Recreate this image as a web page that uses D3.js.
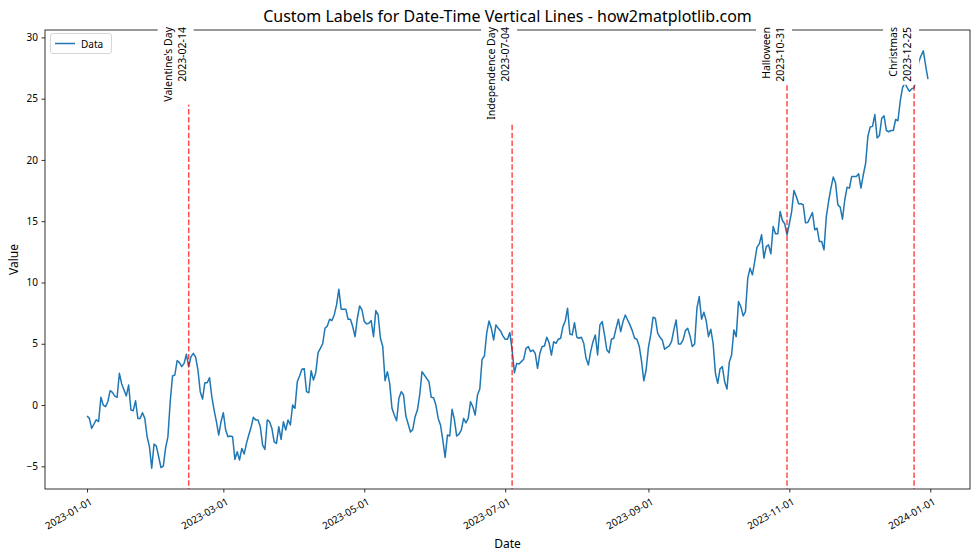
<!DOCTYPE html>
<html>
<head>
<meta charset="utf-8">
<script src="https://cdn.jsdelivr.net/npm/d3@7"></script>
<style>
  html, body { margin: 0; padding: 0; background: #fff; }
  svg { display: block; }
  text { font-family: "Noto Sans", "DejaVu Sans", sans-serif; fill: #000; }
</style>
</head>
<body>
<svg id="chart" width="980" height="560"></svg>
<script>
// ---------- data ----------
const startDate = "2023-01-01";
const values = [
  -0.9,-1.09,-1.9,-1.55,-1.2,-1.35,0.63,0,-0.13,0.27,
  1.17,1.03,0.73,0.63,2.59,1.72,1.23,0.74,1.63,-0.41,
  -0.46,0.35,-1.09,-1.09,-0.63,-1.09,-2.59,-3.4,-5.15,-3.19,
  -3.35,-4.22,-5.1,-4.98,-3.5,-2.6,0.27,2.37,2.45,3.62,
  3.46,3.13,3.4,4.14,3.13,3.95,4.22,3.9,2.86,1.09,
  0.49,1.82,1.82,2.23,0.68,-0.41,-1.36,-2.45,-1.36,-0.63,
  -2.04,-2.59,-2.53,-2.59,-4.44,-3.81,-4.49,-3.54,-4.0,-3.13,
  -2.45,-1.82,-1.0,-1.22,-1.22,-1.77,-3.27,-3.62,-1.22,-1.36,
  -1.9,-3.0,-3.13,-1.77,-2.8,-1.36,-2.04,-1.22,-1.63,0,
  -0.27,1.9,2.37,2.92,2.97,1.09,1.0,2.8,2.04,2.64,
  4.27,4.63,5.0,6.26,6.45,7.0,6.89,7.35,8.17,9.45,
  7.82,7.82,7.82,7.0,7.0,6.4,5.58,7.08,8.09,7.76,
  6.81,6.62,6.67,6.89,5.58,7.71,7.35,5.45,4.77,1.99,
  2.72,1.77,-0.27,-0.82,-1.28,0.55,1.09,0.82,-0.9,-1.55,
  -2.2,-1.99,-0.95,-0.41,0.82,2.72,2.45,2.18,1.9,0.63,
  0.6,0,-1.09,-1.63,-2.86,-4.27,-2.45,-2.53,-0.35,-1.17,
  -2.53,-2.37,-2.04,-1.09,-1.45,-1.09,0.27,-0.14,-0.82,0.82,
  1.3,3.73,4.0,5.86,6.86,6.26,5.31,6.54,6.26,6.05,
  5.64,5.37,5.37,5.91,4.49,2.64,3.4,3.35,3.54,3.73,
  4.63,4.77,4.36,4.49,4.22,3.0,4.22,4.77,4.82,5.53,
  5.09,4.08,5.17,5.04,5.37,5.45,6.4,6.85,7.9,5.8,
  5.72,6.72,5.53,5.45,5.53,5.04,3.81,3.27,4.36,5.17,
  5.72,4.08,6.54,6.81,5.72,4.49,4.27,5.37,5.45,6.26,
  7.0,5.99,6.81,7.35,6.94,6.54,6.07,5.45,5.37,4.82,
  3.6,1.98,2.86,4.7,5.72,7.16,7.08,5.86,5.53,5.31,
  4.55,4.71,4.82,5.17,6.13,6.94,4.98,4.98,5.31,6.07,
  6.26,5.64,4.77,4.98,7.9,8.85,7.0,7.57,6.89,5.58,
  6.18,5.04,2.59,1.77,2.95,3.13,1.9,1.3,3.5,4.08,
  6.13,5.58,8.44,8.03,7.27,7.62,10.35,11.17,10.62,11.71,
  12.88,13.15,13.89,11.98,12.93,13.07,12.34,14.57,13.97,13.97,
  15.79,15.06,14.79,13.89,14.79,15.79,17.51,17.02,16.42,16.42,
  16.34,14.87,14.9,15.3,15.71,14.3,14.43,13.34,13.34,12.66,
  15.38,16.61,17.7,18.6,18.11,16.34,16.15,15.17,16.75,17.78,
  17.7,18.65,18.65,18.65,18.87,17.7,18.79,19.69,21.92,22.69,
  22.74,23.7,21.8,22.0,23.4,23.6,22.4,22.3,22.4,22.4,
  23.3,23.2,24.8,25.9,26.3,25.9,25.6,25.8,25.9,26.6,
  28.0,28.5,28.9,27.7,26.6
];
const eventDates = ["2023-02-14", "2023-07-04", "2023-10-31", "2023-12-25"];
const eventNames = ["Valentine's Day", "Independence Day", "Halloween", "Christmas"];
const xTickLabels = ["2023-01-01","2023-03-01","2023-05-01","2023-07-01","2023-09-01","2023-11-01","2024-01-01"];
const yTicks = [-5, 0, 5, 10, 15, 20, 25, 30];
const seriesName = "Data";
const titleText = "Custom Labels for Date-Time Vertical Lines - how2matplotlib.com";

// ---------- layout ----------
const W = 980, H = 560;
const L = 45, R = 970, T = 30, B = 489;
const lineColor = "#1f77b4";

const parse = d3.utcParse("%Y-%m-%d");
const t0 = parse(startDate);
const data = values.map((v, i) => ({ date: d3.utcDay.offset(t0, i), value: v }));

const svg = d3.select("#chart");

// x scale with 5% margins
const xExt = d3.extent(data, d => d.date);
const xSpan = xExt[1] - xExt[0];
const x = d3.scaleUtc()
  .domain([new Date(+xExt[0] - 0.05 * xSpan), new Date(+xExt[1] + 0.05 * xSpan)])
  .range([L, R]);

const yExt = d3.extent(values);
const ySpan = yExt[1] - yExt[0];
const y = d3.scaleLinear()
  .domain([yExt[0] - 0.05 * ySpan, yExt[1] + 0.05 * ySpan])
  .range([B, T]);

// clip
svg.append("defs").append("clipPath").attr("id", "clip")
  .append("rect").attr("x", L).attr("y", T).attr("width", R - L).attr("height", B - T);

// data line
svg.append("path")
  .datum(data)
  .attr("clip-path", "url(#clip)")
  .attr("fill", "none")
  .attr("stroke", lineColor)
  .attr("stroke-width", 1.5)
  .attr("stroke-linejoin", "round")
  .attr("d", d3.line().x(d => x(d.date)).y(d => y(d.value)));

// vertical event lines
const events = eventDates.map((d, i) => ({ date: parse(d), name: eventNames[i], label: d }));
svg.append("g").selectAll("line").data(events).join("line")
  .attr("x1", d => x(d.date)).attr("x2", d => x(d.date))
  .attr("y1", T).attr("y2", B)
  .attr("stroke", "red").attr("stroke-opacity", 0.7)
  .attr("stroke-width", 1.5)
  .attr("stroke-dasharray", "5.5,2.4");

// axes
const xAxis = d3.axisBottom(x)
  .tickValues(xTickLabels.map(parse))
  .tickFormat(d3.utcFormat("%Y-%m-%d"))
  .tickSize(3.5).tickPadding(3);
const gx = svg.append("g").attr("transform", `translate(0,${B})`).call(xAxis);
gx.select(".domain").remove();
gx.selectAll(".tick line").attr("stroke", "#000").attr("stroke-width", 0.8);
gx.selectAll(".tick text")
  .attr("font-size", 10)
  .attr("text-anchor", "end")
  .attr("dy", null)
  .attr("y", 0)
  .attr("dominant-baseline", "hanging")
  .attr("transform", "translate(1,7) rotate(-30)");

const yAxis = d3.axisLeft(y).tickValues(yTicks).tickSize(3.5).tickPadding(3.5);
const gy = svg.append("g").attr("transform", `translate(${L},0)`).call(yAxis);
gy.select(".domain").remove();
gy.selectAll(".tick line").attr("stroke", "#000").attr("stroke-width", 0.8);
gy.selectAll(".tick text").attr("font-size", 10);

// spines
svg.append("rect").attr("x", L).attr("y", T).attr("width", R - L).attr("height", B - T)
  .attr("fill", "none").attr("stroke", "#000").attr("stroke-width", 0.8);

// event label boxes + text
const fs = 10.5;
const lab = svg.append("g").selectAll("g").data(events).join("g");
lab.each(function (d) {
  const g = d3.select(this);
  const lx = x(d.date);
  const rect = g.append("rect").attr("fill", "#fff");
  const t1 = g.append("text")
    .attr("transform", `translate(${lx - 21},27) rotate(-90)`)
    .attr("text-anchor", "end")
    .attr("dominant-baseline", "central")
    .attr("font-size", fs)
    .text(d.name);
  const t2 = g.append("text")
    .attr("transform", `translate(${lx - 7},27) rotate(-90)`)
    .attr("text-anchor", "end")
    .attr("dominant-baseline", "central")
    .attr("font-size", fs)
    .text(d.label);
  const len = Math.max(t1.node().getComputedTextLength(), t2.node().getComputedTextLength());
  rect.attr("x", lx - 31).attr("y", 23).attr("width", 36).attr("height", len + 7);
});

// legend
const lg = svg.append("g");
lg.append("rect").attr("x", 50.5).attr("y", 33.5).attr("width", 61).attr("height", 20)
  .attr("rx", 2.5).attr("fill", "#fff").attr("fill-opacity", 0.8)
  .attr("stroke", "#ccc").attr("stroke-width", 0.8);
lg.append("line").attr("x1", 55).attr("x2", 75).attr("y1", 43.5).attr("y2", 43.5)
  .attr("stroke", lineColor).attr("stroke-width", 1.5);
lg.append("text").attr("x", 81).attr("y", 43.5).attr("dominant-baseline", "central")
  .attr("font-size", 10).text(seriesName);

// title and labels
svg.append("text").attr("x", (L + R) / 2).attr("y", 22).attr("text-anchor", "middle")
  .attr("font-size", 16).text(titleText);
svg.append("text").attr("x", (L + R) / 2).attr("y", 548).attr("text-anchor", "middle")
  .attr("font-size", 12).text("Date");
svg.append("text").attr("transform", `translate(18,${(T + B) / 2}) rotate(-90)`)
  .attr("text-anchor", "middle").attr("font-size", 12).text("Value");
</script>
</body>
</html>
